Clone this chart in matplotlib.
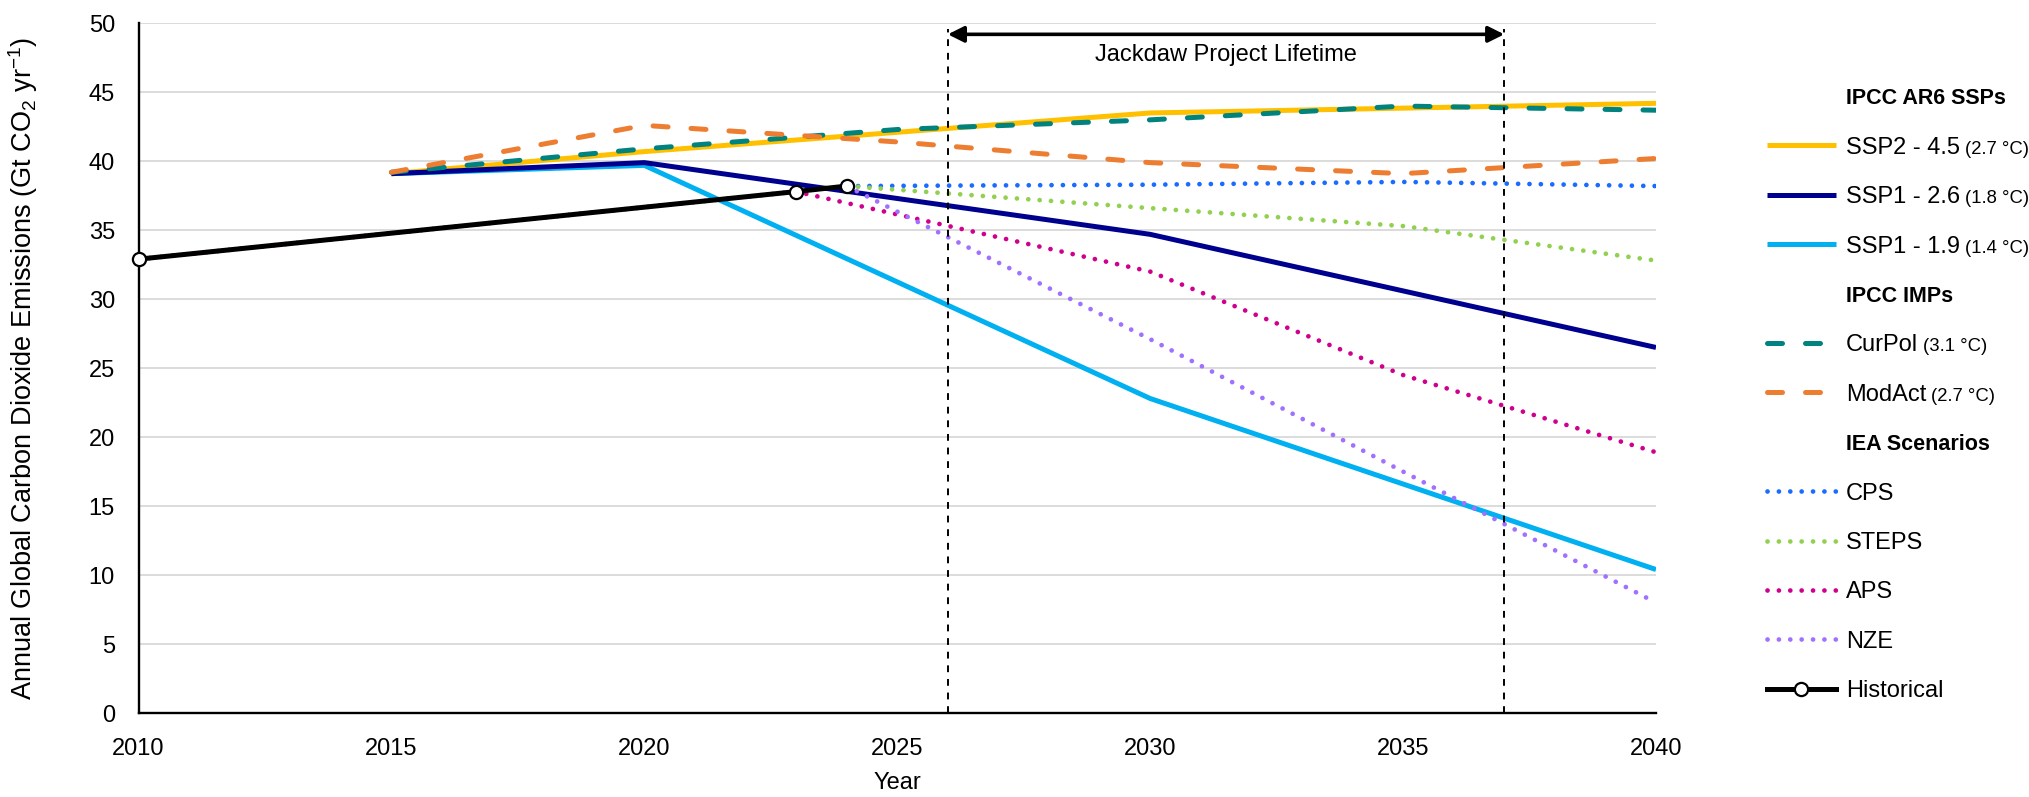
import matplotlib.pyplot as plt

plt.rcParams['font.family'] = ['Liberation Sans', 'DejaVu Sans']
plt.rcParams['mathtext.fontset'] = 'custom'
plt.rcParams['mathtext.rm'] = 'Liberation Sans'
plt.rcParams['mathtext.default'] = 'regular'

# IPCC AR6 SSP pathways (Gt CO2 / yr)
ssp_years = [2015, 2020, 2030, 2040]
ssp245 = [39.1, 40.7, 43.5, 44.2]
ssp126 = [39.1, 39.9, 34.7, 26.5]
ssp119 = [39.1, 39.7, 22.8, 10.4]

# IPCC illustrative mitigation pathways
imp_years = [2015, 2020, 2025, 2030, 2035, 2040]
curpol = [39.2, 40.9, 42.3, 43.0, 44.0, 43.7]
modact = [39.2, 42.6, 41.4, 39.9, 39.1, 40.2]

# IEA WEO scenarios
iea_years = [2024, 2030, 2035, 2040]
cps = [38.2, 38.3, 38.5, 38.2]
steps = [38.2, 36.6, 35.3, 32.8]
nze = [38.2, 27.1, 17.5, 8.0]
aps_years = [2010, 2023, 2030, 2035, 2040]
aps = [32.9, 37.8, 32.0, 24.5, 18.9]

# historical emissions
hist_years = [2010, 2023, 2024]
hist = [32.9, 37.8, 38.2]

project_start, project_end = 2026, 2037

W, H = 2029, 797
fig = plt.figure(figsize=(W / 100, H / 100), dpi=100)
ax = fig.add_axes([138.5 / W, 1 - 713 / H, (1656 - 138.5) / W, (713 - 23.3) / H])

solid = dict(ls='-', lw=3.6, solid_capstyle='butt')
dashed = dict(ls=(0, (3, 4.6)), lw=3.6, dash_capstyle='round')
dotted = dict(ls=(0, (0.01, 2.4)), lw=3.4, dash_capstyle='round')
hist_style = dict(ls='-', lw=3.6, marker='o', ms=9.5, mfc='white', mec='black', mew=1.6)

series = [
    ("SSP2 - 4.5", "(2.7 °C)", ssp_years, ssp245, '#FFC000', solid),
    ("SSP1 - 2.6", "(1.8 °C)", ssp_years, ssp126, '#00008F', solid),
    ("SSP1 - 1.9", "(1.4 °C)", ssp_years, ssp119, '#00B0F0', solid),
    ("CurPol", "(3.1 °C)", imp_years, curpol, '#00827F', dashed),
    ("ModAct", "(2.7 °C)", imp_years, modact, '#ED7D31', dashed),
    ("CPS", None, iea_years, cps, '#1A6BFF', dotted),
    ("STEPS", None, iea_years, steps, '#92D050', dotted),
    ("APS", None, aps_years, aps, '#D0008F', dotted),
    ("NZE", None, iea_years, nze, '#A070FF', dotted),
]

# draw order: SSPs at the back, navy over cyan, historical on top
zorders = [3, 4, 3.5, 5, 6, 7, 7, 6.5, 7]
for (name, temp, xs, ys, col, st), z in zip(series, zorders):
    ax.plot(xs, ys, color=col, zorder=z, **st)
ax.plot(hist_years, hist, color='black', zorder=9, clip_on=False, **hist_style)

# project lifetime window
for yr in (project_start, project_end):
    ax.plot([yr, yr], [0, 49.6], color='black', lw=1.4, ls=(0, (3.5, 3.5)), zorder=8)
ax.annotate('', xy=(project_end, 49.2), xytext=(project_start, 49.2),
            arrowprops=dict(arrowstyle='<|-|>', color='black', lw=2.6,
                            mutation_scale=24, shrinkA=0, shrinkB=0), zorder=8)
ax.text((project_start + project_end) / 2, 47.7, "Jackdaw Project Lifetime",
        ha='center', va='center', fontsize=17)

ax.set_xlim(2010, 2040)
ax.set_ylim(0, 50)
ax.set_xticks(range(2010, 2041, 5))
ax.set_yticks(range(0, 51, 5))
ax.tick_params(length=0, labelsize=17)
ax.tick_params(axis='x', pad=18)
ax.tick_params(axis='y', pad=17)
ax.grid(axis='y', color='#D9D9D9', lw=1.3, zorder=0)
ax.set_axisbelow(True)
for side in ('top', 'right'):
    ax.spines[side].set_visible(False)
for side in ('left', 'bottom'):
    ax.spines[side].set_linewidth(1.7)
    ax.spines[side].set_zorder(2)

fig.text(23 / W, 0.5 * ((1 - 713 / H) + (1 - 23.3 / H)),
         r"Annual Global Carbon Dioxide Emissions (Gt CO$_2$ yr$^{-1}$)",
         rotation=90, ha='center', va='center', fontsize=19.5)
fig.text(897 / W, 1 - 783 / H, "Year", ha='center', va='center', fontsize=17)

# legend, laid out in figure pixels
leg = fig.add_axes([0, 0, 1, 1])
leg.set_xlim(0, W)
leg.set_ylim(H, 0)
leg.axis('off')

row_y = [96 + 49.4 * i for i in range(13)]
hx0, hx1, tx = 1767, 1836, 1846
fs, fs_bold, fs_small = 17, 15.5, 13.3
cap = 0.716 * fs * 100 / 72 / 2

rows = (["IPCC AR6 SSPs"] + series[0:3] + ["IPCC IMPs"] + series[3:5]
        + ["IEA Scenarios"] + series[5:9] + ["Historical"])

small_pending = []
for y, row in zip(row_y, rows):
    if isinstance(row, str) and row != "Historical":
        leg.text(tx, y + cap, row, fontsize=fs_bold, fontweight='bold', va='baseline')
        continue
    if row == "Historical":
        leg.plot([hx0, hx1], [y, y], color='black', lw=3.6)
        leg.plot([(hx0 + hx1) / 2 - 1], [y], color='black', ls='none', marker='o',
                 ms=9.5, mfc='white', mec='black', mew=1.6)
        leg.text(tx, y + cap, "Historical", fontsize=fs, va='baseline')
        continue
    name, temp, _, _, col, st = row
    leg.plot([hx0, hx1], [y, y], color=col, **st)
    t = leg.text(tx, y + cap, name, fontsize=fs, va='baseline')
    if temp:
        small_pending.append((t, y + cap, temp))

fig.canvas.draw()
renderer = fig.canvas.get_renderer()
for t, yb, temp in small_pending:
    bb = t.get_window_extent(renderer)
    leg.text(bb.x1 + 5, yb, temp, fontsize=fs_small, va='baseline')

fig.savefig("out.png", dpi=100)
